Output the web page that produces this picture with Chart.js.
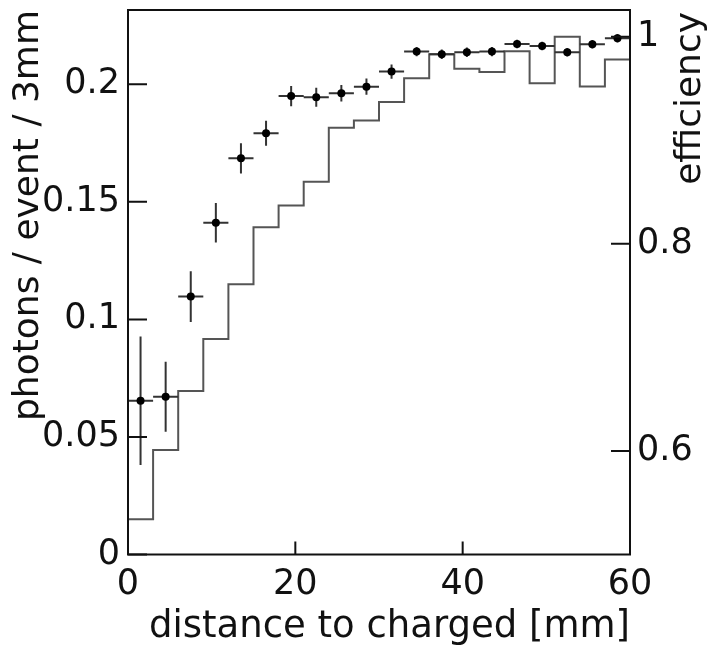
<!DOCTYPE html>
<html>
<head>
<meta charset="utf-8">
<script src="https://cdn.jsdelivr.net/npm/chart.js@4.4.1/dist/chart.umd.min.js"></script>
<style>
  html, body { margin: 0; padding: 0; background: #fff; }
  #wrap { width: 715px; height: 652px; position: relative; }
</style>
</head>
<body>
<div id="wrap"><canvas id="chart"></canvas></div>
<script>
// 3 mm bins, 0..60 mm
const binEdges = [0, 3, 6, 9, 12, 15, 18, 21, 24, 27, 30, 33, 36, 39, 42, 45, 48, 51, 54, 57, 60];
const binCenters = [1.5, 4.5, 7.5, 10.5, 13.5, 16.5, 19.5, 22.5, 25.5, 28.5, 31.5, 34.5, 37.5, 40.5, 43.5, 46.5, 49.5, 52.5, 55.5, 58.5];
const binHalfWidth = 1.5;

// points with error bars (left axis)
const photonsPerEvent = [0.0654, 0.0671, 0.1097, 0.1411, 0.1685, 0.1792, 0.1950, 0.1945, 0.1962, 0.1990,
    0.2054, 0.2139, 0.2128, 0.2136, 0.2139, 0.2171, 0.2163, 0.2136, 0.2170, 0.2196];
const photonsErr = [0.0273, 0.0149, 0.0108, 0.0084, 0.0064, 0.0053, 0.0043, 0.0040, 0.0035, 0.0035,
    0.0030, 0.0020, 0.0020, 0.0020, 0.0020, 0.0018, 0.0018, 0.0018, 0.0018, 0.0018];

// histogram (right axis)
const efficiency = [0.534, 0.601, 0.658, 0.708, 0.761, 0.816, 0.837, 0.860, 0.912, 0.919,
    0.937, 0.960, 0.983, 0.969, 0.966, 0.986, 0.955, 1.000, 0.952, 0.978];

const xTicks = [0, 20, 40, 60];
const leftTicks = [0, 0.05, 0.1, 0.15, 0.2];
const rightTicks = [0.6, 0.8, 1];

const FONT = '"DejaVu Sans", sans-serif';
Chart.defaults.font.family = FONT;
Chart.defaults.color = '#111';

const fixTicks = list => scale => { scale.ticks = list.map(v => ({ value: v })); };
const noPad = size => scale => {
    if (scale.isHorizontal()) scale.height = size; else scale.width = size;
    scale.paddingTop = 0; scale.paddingBottom = 0; scale.paddingLeft = 0; scale.paddingRight = 0;
};

const rootAxes = {
    id: 'rootAxes',
    beforeDatasetDraw(chart, args) {
        if (args.meta.type !== 'scatter') return;
        const { ctx, scales } = chart;
        ctx.save();
        ctx.strokeStyle = '#333';
        ctx.lineWidth = 2;
        ctx.beginPath();
        binCenters.forEach((x, i) => {
            const y = photonsPerEvent[i], e = photonsErr[i];
            const px = scales.x.getPixelForValue(x);
            const py = scales.yL.getPixelForValue(y);
            ctx.moveTo(px, scales.yL.getPixelForValue(y + e));
            ctx.lineTo(px, scales.yL.getPixelForValue(y - e));
            ctx.moveTo(scales.x.getPixelForValue(x - binHalfWidth), py);
            ctx.lineTo(scales.x.getPixelForValue(x + binHalfWidth), py);
        });
        ctx.stroke();
        ctx.restore();
    },
    afterDraw(chart) {
        const { ctx, chartArea: a, scales } = chart;
        ctx.save();
        ctx.strokeStyle = '#111';
        ctx.lineWidth = 2;
        ctx.strokeRect(a.left, a.top, a.right - a.left, a.bottom - a.top);
        ctx.beginPath();
        for (const v of xTicks) {
            const px = scales.x.getPixelForValue(v);
            ctx.moveTo(px, a.bottom);
            ctx.lineTo(px, a.bottom - 13);
        }
        for (const v of leftTicks) {
            const py = scales.yL.getPixelForValue(v);
            ctx.moveTo(a.left, py);
            ctx.lineTo(a.left + 19, py);
        }
        for (const v of rightTicks) {
            const py = scales.yR.getPixelForValue(v);
            ctx.moveTo(a.right, py);
            ctx.lineTo(a.right - 19, py);
        }
        ctx.stroke();

        // right axis title, reads bottom to top like the left one
        ctx.fillStyle = '#111';
        ctx.font = '36px ' + FONT;
        ctx.translate(691, a.top + 2);
        ctx.rotate(-Math.PI / 2);
        ctx.textAlign = 'right';
        ctx.textBaseline = 'middle';
        ctx.fillText('efficiency', 0, 0);
        ctx.restore();
    },
};

new Chart(document.getElementById('chart'), {
    type: 'scatter',
    data: {
        datasets: [
            {
                type: 'scatter',
                data: binCenters.map((x, i) => ({ x, y: photonsPerEvent[i] })),
                yAxisID: 'yL',
                pointRadius: 4,
                pointBackgroundColor: '#000',
                pointBorderWidth: 0,
                order: 0,
            },
            {
                type: 'line',
                data: binEdges.map((x, i) => ({ x, y: efficiency[Math.min(i, efficiency.length - 1)] })),
                yAxisID: 'yR',
                stepped: 'before',
                borderColor: '#555',
                borderWidth: 2,
                pointRadius: 0,
                fill: false,
                order: 1,
            },
        ],
    },
    options: {
        responsive: true,
        maintainAspectRatio: false,
        animation: false,
        layout: { padding: { top: 10, left: 0, right: 0, bottom: 0 } },
        plugins: { legend: { display: false }, tooltip: { enabled: false } },
        scales: {
            x: {
                type: 'linear',
                min: 0,
                max: 60,
                grid: { display: false, drawTicks: false },
                border: { display: false },
                afterBuildTicks: fixTicks(xTicks),
                afterFit: noPad(97.5),
                ticks: { font: { size: 35 }, padding: 9, maxRotation: 0, color: '#111' },
                title: {
                    display: true,
                    text: 'distance to charged [mm]',
                    align: 'end',
                    font: { size: 37, lineHeight: 1 },
                    padding: { top: 0, bottom: 6 },
                    color: '#111',
                },
            },
            yL: {
                type: 'linear',
                position: 'left',
                min: 0,
                max: 0.2316,
                grid: { display: false, drawTicks: false },
                border: { display: false },
                afterBuildTicks: fixTicks(leftTicks),
                afterFit: noPad(128),
                ticks: { font: { size: 35 }, padding: 8, color: '#111', callback: v => String(v) },
                title: {
                    display: true,
                    text: 'photons / event / 3mm',
                    align: 'end',
                    font: { size: 36, lineHeight: 1 },
                    padding: { top: 11, bottom: 0 },
                    color: '#111',
                },
            },
            yR: {
                type: 'linear',
                position: 'right',
                min: 0.5,
                max: 1.0258,
                grid: { display: false, drawTicks: false },
                border: { display: false },
                afterBuildTicks: fixTicks(rightTicks),
                afterFit: noPad(85),
                ticks: { font: { size: 35 }, padding: 7, color: '#111', callback: v => String(v) },
            },
        },
    },
    plugins: [rootAxes],
});
</script>
</body>
</html>
